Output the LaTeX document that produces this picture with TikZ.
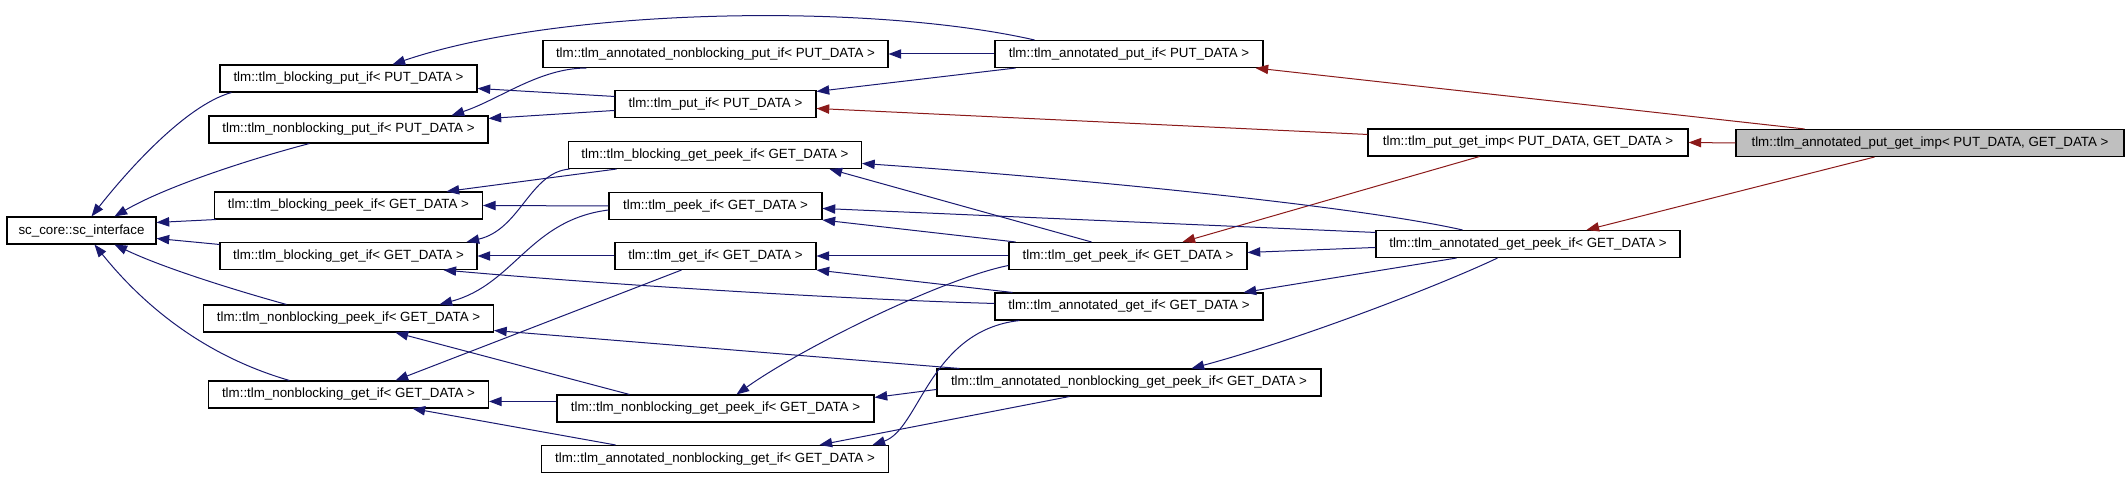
\documentclass[tikz,border=0pt]{standalone}
\usepackage{fontspec}
\setmainfont{Liberation Sans}
\usetikzlibrary{arrows.meta,calc}
\definecolor{eblue}{HTML}{191970}
\definecolor{ered}{HTML}{8B1A1A}
\definecolor{gfill}{HTML}{BFBFBF}
\begin{document}
\begin{tikzpicture}[x=0.75pt,y=-0.75pt,
  cls/.style={draw=black, line width=0.8pt, fill=white, inner sep=0pt,
    minimum height=27*0.75pt, minimum width=#1*0.75pt,
    font=\fontsize{10pt}{12pt}\selectfont},
  basearrow/.style={line width=0.75pt, -{Triangle[length=9.5pt,width=7pt]}},
  pub/.style={basearrow, draw=eblue},
  priv/.style={basearrow, draw=ered},
  ]
\useasboundingbox (0,0) rectangle (2128,477);
% nodes
\node[cls=149] (sci) at (81.5,230.5) {sc\_core::sc\_interface};
\node[cls=257] (bput) at (348.5,78.5) {tlm::tlm\_blocking\_put\_if< PUT\_DATA >};
\node[cls=279] (nbput) at (348.5,129.5) {tlm::tlm\_nonblocking\_put\_if< PUT\_DATA >};
\node[cls=268] (bpeek) at (348.5,205.5) {tlm::tlm\_blocking\_peek\_if< GET\_DATA >};
\node[cls=257] (bget) at (348.5,256) {tlm::tlm\_blocking\_get\_if< GET\_DATA >};
\node[cls=290] (nbpeek) at (348.5,318.5) {tlm::tlm\_nonblocking\_peek\_if< GET\_DATA >};
\node[cls=280] (nbget) at (348.5,394.5) {tlm::tlm\_nonblocking\_get\_if< GET\_DATA >};
\node[cls=345] (anbput) at (715.5,54) {tlm::tlm\_annotated\_nonblocking\_put\_if< PUT\_DATA >};
\node[cls=201] (put) at (715.5,104) {tlm::tlm\_put\_if< PUT\_DATA >};
\node[cls=293] (bgetpeek) at (715,155) {tlm::tlm\_blocking\_get\_peek\_if< GET\_DATA >};
\node[cls=213] (peek) at (715.5,206) {tlm::tlm\_peek\_if< GET\_DATA >};
\node[cls=201] (get) at (715.5,256) {tlm::tlm\_get\_if< GET\_DATA >};
\node[cls=317] (nbgetpeek) at (715.5,408.5) {tlm::tlm\_nonblocking\_get\_peek\_if< GET\_DATA >};
\node[cls=347] (anbget) at (715,459) {tlm::tlm\_annotated\_nonblocking\_get\_if< GET\_DATA >};
\node[cls=268] (aput) at (1129,54) {tlm::tlm\_annotated\_put\_if< PUT\_DATA >};
\node[cls=238] (getpeek) at (1128,256) {tlm::tlm\_get\_peek\_if< GET\_DATA >};
\node[cls=268] (aget) at (1129,306.5) {tlm::tlm\_annotated\_get\_if< GET\_DATA >};
\node[cls=384] (anbgetpeek) at (1129,382.5) {tlm::tlm\_annotated\_nonblocking\_get\_peek\_if< GET\_DATA >};
\node[cls=320] (putgetimp) at (1528,142.5) {tlm::tlm\_put\_get\_imp< PUT\_DATA, GET\_DATA >};
\node[cls=304] (agetpeek) at (1528,244) {tlm::tlm\_annotated\_get\_peek\_if< GET\_DATA >};
\node[cls=388, fill=gfill] (aputgetimp) at (1930,143) {tlm::tlm\_annotated\_put\_get\_imp< PUT\_DATA, GET\_DATA >};
% red edges
\draw[priv] (aputgetimp.west) -- (putgetimp.east);
\draw[priv] ($(aputgetimp.north west)+(69,0)$) -- ($(aput.south east)+(-8,0)$);
\draw[priv] ($(aputgetimp.south west)+(139,0)$) -- ($(agetpeek.north west)+(211,0)$);
\draw[priv] ($(putgetimp.north west)+(0,6)$) -- ($(put.north east)+(0,18.5)$);
\draw[priv] ($(putgetimp.south west)+(112,0)$) -- ($(getpeek.north west)+(174,0)$);
% blue edges
\draw[pub] (aput.west) -- (anbput.east);
\draw[pub] ($(aput.south west)+(21,0)$) -- ($(put.north east)+(0,1.5)$);
\draw[pub] ($(aput.north west)+(40,0)$) .. controls +(-165,-37.5) and +(167,-57) .. ($(bput.north west)+(173,0)$);
\draw[pub] ($(anbput.south west)+(44,0)$) .. controls +(-47,0) and +(48,-16) .. ($(nbput.north west)+(243,0)$);
\draw[pub] ($(put.north west)+(0,6.5)$) -- ($(bput.north east)+(0,24)$);
\draw[pub] ($(put.north west)+(0,20.5)$) -- ($(nbput.north east)+(0,3)$);
\draw[pub] ($(bput.south west)+(12,0)$) .. controls +(-47,13) and +(33,-42) .. ($(sci.north west)+(85,0)$);
\draw[pub] ($(nbput.south west)+(101,0)$) .. controls +(-50,13) and +(55,-32) .. ($(sci.north west)+(108,0)$);
\draw[pub] ($(bpeek.south west)+(2,0)$) -- ($(sci.north east)+(0,6)$);
\draw[pub] ($(bget.north west)+(0,2.5)$) -- ($(sci.north east)+(0,22)$);
\draw[pub] ($(nbpeek.north west)+(83.5,0)$) .. controls +(-47,-13) and +(50,24) .. ($(sci.south west)+(108,0)$);
\draw[pub] ($(nbget.north west)+(81.5,0)$) .. controls +(-90,-26) and +(45,56) .. ($(sci.south west)+(88,0)$);
\draw[pub] ($(bgetpeek.south west)+(48.5,0)$) -- ($(bpeek.north west)+(232.5,0)$);
\draw[pub] ($(bgetpeek.south west)+(1.5,0)$) .. controls +(-40,3.5) and +(54,-12.5) .. ($(bget.north east)+(-11,0)$);
\draw[pub] (peek.west) -- (bpeek.east);
\draw[pub] ($(peek.west)+(0,4)$) .. controls +(-79,10) and +(75,-20) .. ($(nbpeek.north west)+(236.5,0)$);
\draw[pub] (get.west) -- (bget.east);
\draw[pub] ($(get.south west)+(67,0)$) -- ($(nbget.north west)+(187.5,0)$);
\draw[pub] ($(getpeek.north west)+(83,0)$) -- ($(bgetpeek.south west)+(261.5,0)$);
\draw[pub] ($(getpeek.north west)+(7,0)$) -- (peek.south east);
\draw[pub] (getpeek.west) -- (get.east);
\draw[pub] ($(getpeek.north west)+(0,23.5)$) .. controls +(-69,14) and +(63,-45) .. ($(nbgetpeek.north west)+(180,0)$);
\draw[pub] ($(aget.north west)+(18,0)$) -- (get.south east);
\draw[pub] ($(aget.north west)+(0,11)$) .. controls +(-145,-4) and +(176,15.5) .. ($(bget.south west)+(224,0)$);
\draw[pub] ($(aget.south west)+(25,0)$) .. controls +(-90,10) and +(47,-15.5) .. ($(anbget.north west)+(331.5,0)$);
\draw[pub] ($(agetpeek.north west)+(87,0)$) .. controls +(-113,-25.5) and +(189,13) .. ($(bgetpeek.north east)+(0,22.5)$);
\draw[pub] ($(agetpeek.north west)+(0,2.5)$) -- ($(peek.north east)+(0,16.5)$);
\draw[pub] ($(agetpeek.north west)+(0,17.5)$) -- ($(getpeek.north east)+(0,10.5)$);
\draw[pub] ($(agetpeek.south west)+(81,0)$) -- ($(aget.north east)+(-20,0)$);
\draw[pub] ($(agetpeek.south west)+(122,0)$) .. controls +(-58,27.5) and +(108,-29) .. ($(anbgetpeek.north west)+(255,0)$);
\draw[pub] ($(nbgetpeek.north west)+(73,0)$) -- ($(nbpeek.south west)+(192.5,0)$);
\draw[pub] ($(nbgetpeek.north west)+(0,7)$) -- ($(nbget.north east)+(0,21)$);
\draw[pub] ($(anbgetpeek.north west)+(0,21)$) -- ($(nbgetpeek.north east)+(0,3)$);
\draw[pub] ($(anbgetpeek.north west)+(23,0)$) -- ($(nbpeek.north east)+(0,26)$);
\draw[pub] ($(anbgetpeek.south west)+(133,0)$) -- ($(anbget.north west)+(278.5,0)$);
\draw[pub] ($(anbget.north west)+(74.5,0)$) -- ($(nbget.south west)+(204.5,0)$);
\end{tikzpicture}
\end{document}
